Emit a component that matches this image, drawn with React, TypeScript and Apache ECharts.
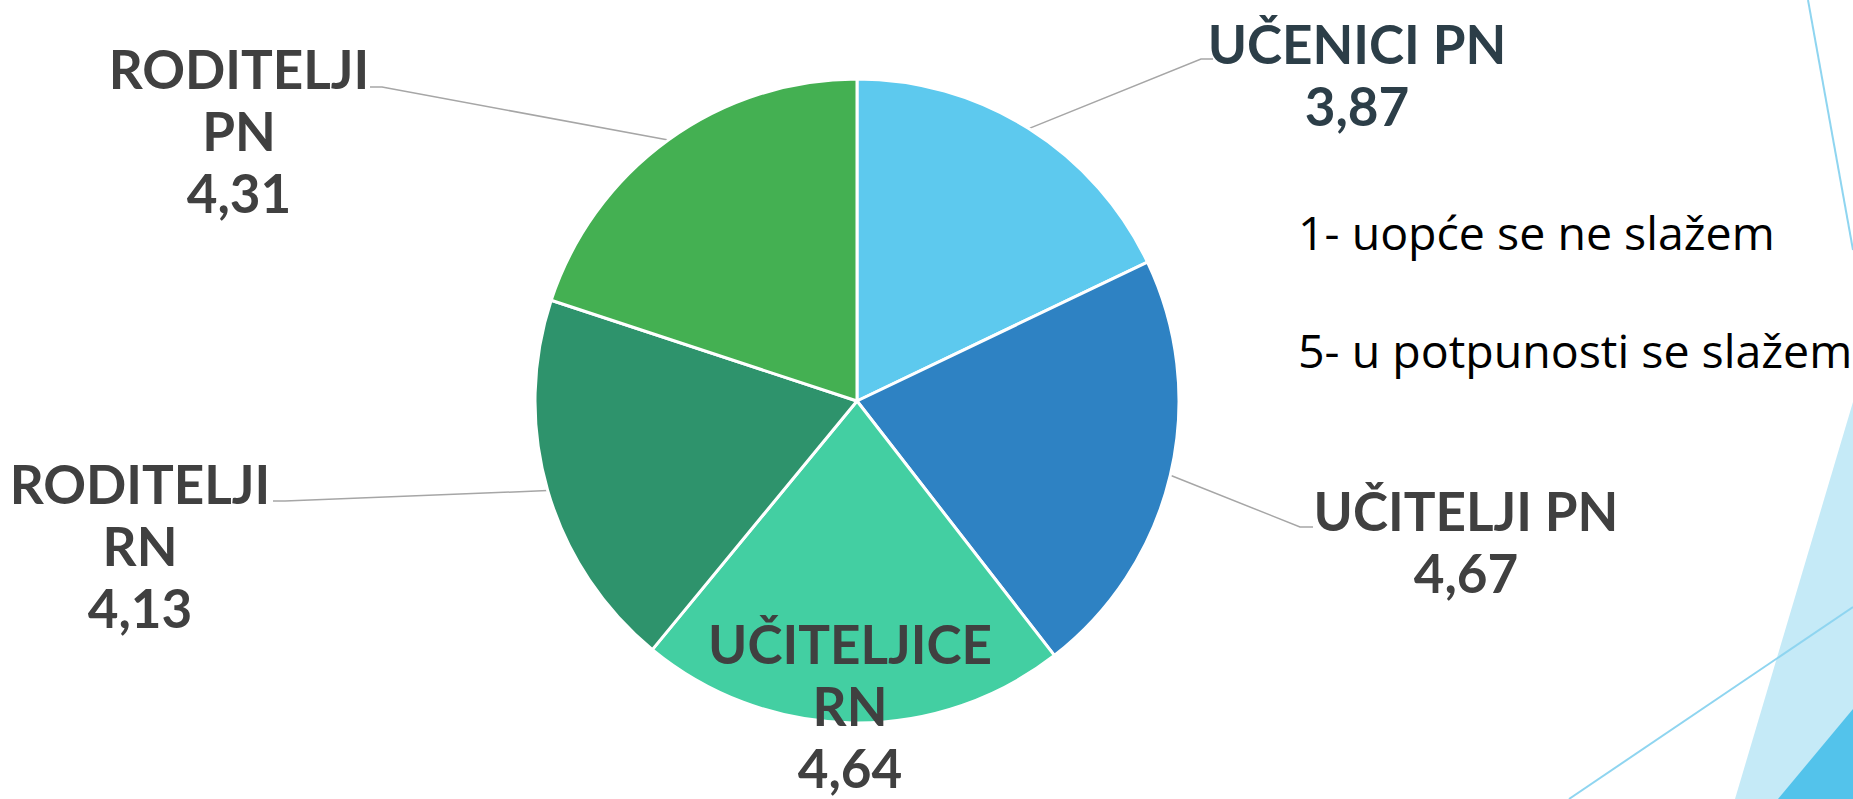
import { useEffect, useRef } from "react";
import * as echarts from "echarts";

const categories = ["UČENICI PN", "UČITELJI PN", "UČITELJICE RN", "RODITELJI RN", "RODITELJI PN"];
const labelNames = ["UČENICI PN", "UČITELJI PN", "UČITELJICE\nRN", "RODITELJI\nRN", "RODITELJI\nPN"];
const values = [3.87, 4.67, 4.64, 4.13, 4.31];
const sliceColors = ["#5DC9EE", "#2E82C3", "#43CFA2", "#2E936C", "#44B052"];
const labelColors = ["#2C3E48", "#404040", "#404040", "#404040", "#404040"];
const scaleNotes = ["1- uopće se ne slažem", "5- u potpunosti se slažem"];

// label placement (layout only): block centre x, block top y, leader elbow + end
const labelAnchors: { x: number; y: number; line: number[][] | null }[] = [
  { x: 1357, y: 12, line: [[1201, 59], [1213, 59]] },
  { x: 1466, y: 479, line: [[1300, 527], [1313, 527]] },
  { x: 850, y: 612, line: null },
  { x: 140, y: 452, line: [[285, 501], [273, 501]] },
  { x: 239, y: 37, line: [[382, 87], [370, 87]] },
];

const fmt = (v: number) => v.toFixed(2).replace(".", ",");

export default function App() {
  const ref = useRef<HTMLDivElement>(null);
  useEffect(() => {
    if (!ref.current) return;
    const chart = echarts.init(ref.current, undefined, { renderer: "svg" });
    const data = categories.map((name, i) => {
      const inside = labelAnchors[i].line === null;
      return {
        name,
        value: values[i],
        itemStyle: { color: sliceColors[i] },
        label: {
          position: inside ? "inside" : "outside",
          color: labelColors[i],
        },
        labelLine: { show: !inside },
      };
    });
    chart.setOption({
      animation: false,
      backgroundColor: "#ffffff",
      graphic: [
        {
          type: "polygon",
          shape: { points: [[1735, 799], [1853, 402], [1853, 799]] },
          style: { fill: "#C5EAF7" },
          silent: true,
        },
        {
          type: "polygon",
          shape: { points: [[1778, 799], [1853, 709], [1853, 799]] },
          style: { fill: "#53C3EB" },
          silent: true,
        },
        {
          type: "line",
          shape: { x1: 1808, y1: 0, x2: 1853, y2: 250 },
          style: { stroke: "#8FD5F0", lineWidth: 2 },
          silent: true,
        },
        {
          type: "line",
          shape: { x1: 1569, y1: 799, x2: 1853, y2: 607 },
          style: { stroke: "#8FD5F0", lineWidth: 2 },
          silent: true,
        },
        ...scaleNotes.map((t, i) => ({
          type: "text",
          x: 1298,
          y: 232 + i * 118,
          style: {
            text: t,
            fill: "#000000",
            fontSize: 46.5,
            fontFamily: "Open Sans",
            textVerticalAlign: "middle",
            verticalAlign: "middle",
          },
          silent: true,
        })),
      ],
      series: [
        {
          type: "pie",
          center: [857, 401],
          radius: 322,
          startAngle: 90,
          clockwise: true,
          avoidLabelOverlap: false,
          silent: true,
          itemStyle: { borderColor: "#ffffff", borderWidth: 3 },
          label: {
            show: true,
            formatter: (p: any) => `${labelNames[p.dataIndex]}\n${fmt(p.value)}`,
            fontFamily: "Lato",
            fontWeight: "bold",
            fontSize: 53,
            lineHeight: 62,
            align: "center",
          },
          labelLine: {
            show: true,
            lineStyle: { color: "#A6A6A6", width: 1.5 },
          },
          labelLayout: (params: any) => {
            const a = labelAnchors[params.dataIndex];
            const res: any = { x: a.x, y: a.y, align: "center", verticalAlign: "top" };
            if (a.line && params.labelLinePoints) {
              res.labelLinePoints = [params.labelLinePoints[0], a.line[0], a.line[1]];
            }
            return res;
          },
          data,
        },
      ],
    });
    return () => chart.dispose();
  }, []);
  return (
    <div
      ref={ref}
      style={{ position: "absolute", left: 0, top: 0, width: 1853, height: 799 }}
    />
  );
}
